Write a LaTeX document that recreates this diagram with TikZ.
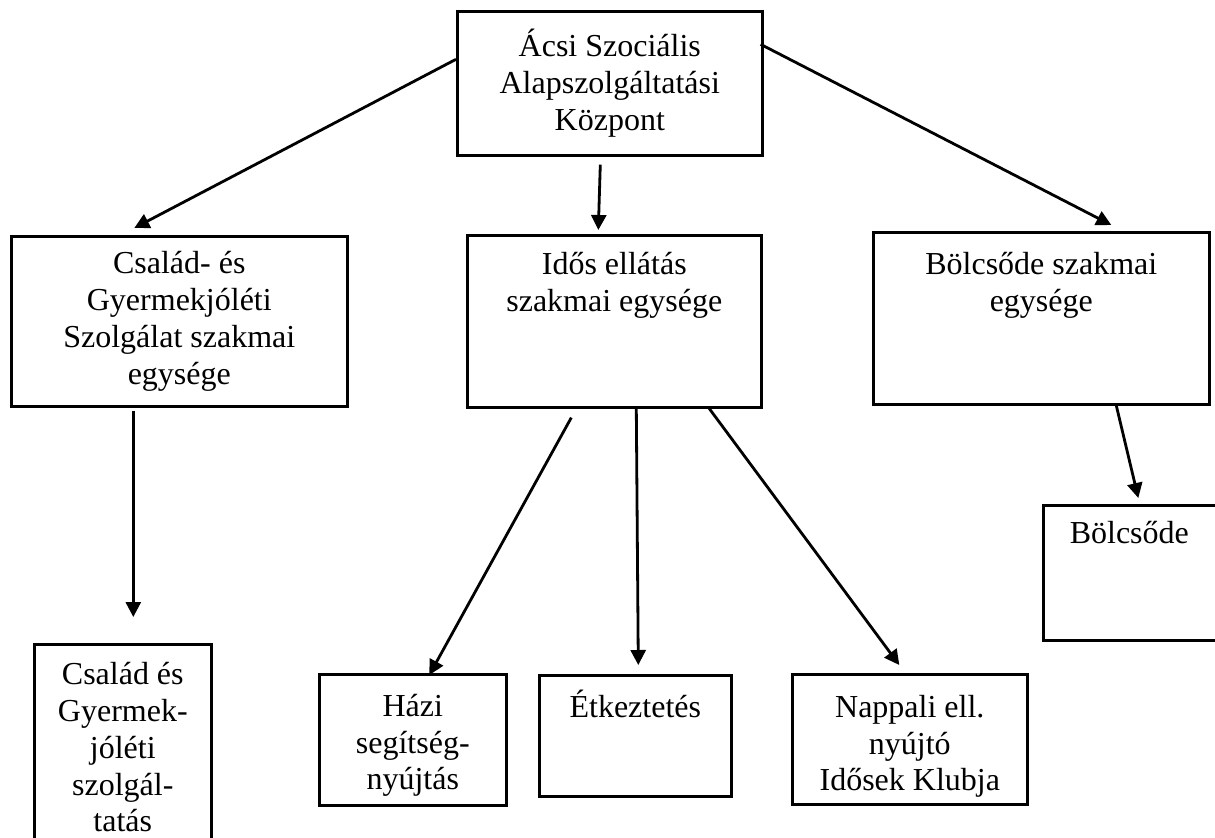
\documentclass[tikz,border=0pt]{standalone}
\usepackage{fontspec}
\setmainfont{Liberation Serif}
\usetikzlibrary{arrows.meta}

\begin{document}
\begin{tikzpicture}[x=0.5pt, y=-0.5pt,
  unit/.style={draw, line width=1.3pt, anchor=north west, align=center, inner sep=0pt, font=\fontsize{16}{18.4}\selectfont},
  toptext/.style={anchor=north, yshift=-5.5pt, align=center, font=\fontsize{16}{18.4}\selectfont},
  conn/.style={line width=1.4pt, -{Triangle[length=7.5pt,width=7.5pt]}}]
\useasboundingbox (0,0) rectangle (1215,837);
% top level
\node[unit, minimum width=152.5pt, minimum height=72pt] (kozpont) at (456,10) {Ácsi Szociális\\Alapszolgáltatási\\Központ};
% units
\node[unit, minimum width=168pt, minimum height=85pt] (csaladsz) at (10,235) {Család- és\\Gyermekjóléti\\Szolgálat szakmai\\egysége};
\node[unit, minimum width=147pt, minimum height=86pt, label={[toptext]north:{Idős ellátás\\szakmai egysége}}] (idos) at (466,234) {};
\node[unit, minimum width=168pt, minimum height=86pt, label={[toptext, yshift=-1.5pt]north:{Bölcsőde szakmai\\egysége}}] (bolcsosz) at (872,231) {};
% services
\node[unit, minimum width=88.5pt, minimum height=103pt] (csgyj) at (33,643) {Család és\\Gyermek-\\jóléti\\szolgál-\\tatás};
\node[unit, minimum width=93.5pt, minimum height=65.5pt, label={[toptext, yshift=-1.5pt]north:{Házi\\segítség-\\nyújtás}}] (hazi) at (318,673) {};
\node[unit, minimum width=96pt, minimum height=60.5pt, label={[toptext, yshift=1pt]north:{Étkeztetés}}] (etkezt) at (538,674) {};
\node[unit, minimum width=117.5pt, minimum height=65pt, label={[toptext, yshift=-2pt]north:{Nappali ell.\\nyújtó\\Idősek Klubja}}] (nappali) at (791,673) {};
\node[unit, minimum width=90pt, minimum height=67.5pt, label={[toptext, xshift=-2pt, yshift=0.5pt]north:{Bölcsőde}}] (bolcsode) at (1042,504) {};
% connectors
\draw[conn] ([shift={(0,-24)}]kozpont.west) -- ([shift={(-45,-7)}]csaladsz.north);
\draw[conn] ([shift={(-9.5,8)}]kozpont.south) -- ([shift={(-16,-4)}]idos.north);
\draw[conn] ([shift={(-3,-39)}]kozpont.east) -- ([shift={(70,-6)}]bolcsosz.north);
\draw[conn] ([shift={(-46,3)}]csaladsz.south) -- ([shift={(10.5,-26)}]csgyj.north);
\draw[conn] ([shift={(-43,9)}]idos.south) -- ([shift={(16.5,2)}]hazi.north);
\draw[conn] ([shift={(22,0)}]idos.south) -- ([shift={(3,-9)}]etkezt.north);
\draw[conn] ([shift={(95,0)}]idos.south) -- ([shift={(-10.5,-8)}]nappali.north);
\draw[conn] ([shift={(75,0)}]bolcsosz.south) -- ([shift={(5,-6)}]bolcsode.north);
\end{tikzpicture}
\end{document}
